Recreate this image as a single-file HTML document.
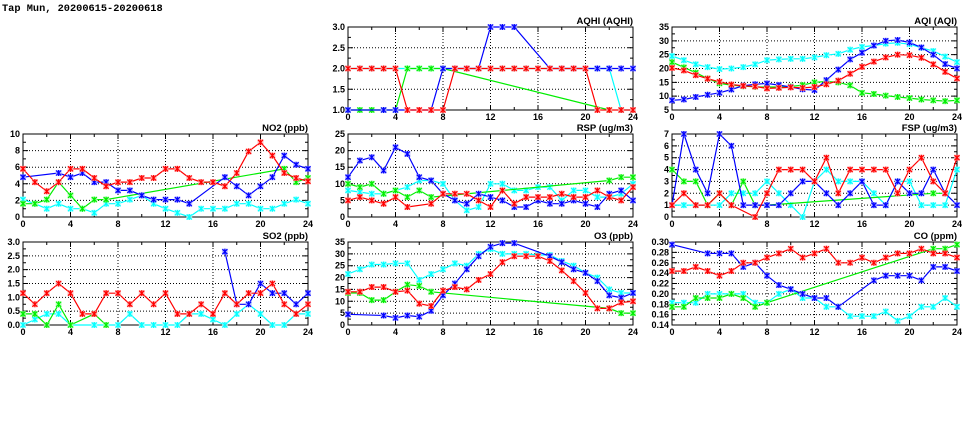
<!DOCTYPE html>
<html><head><meta charset="utf-8"><style>
body{margin:0;background:#fff;}
svg{display:block;font-family:"Liberation Sans",sans-serif;font-weight:bold;font-size:9px;}
.t{font-size:9.5px}
.xl text{text-anchor:middle}
.yl text{text-anchor:end}
</style></head><body>
<svg id="s" width="975" height="447" viewBox="0 0 975 447" xmlns="http://www.w3.org/2000/svg">
<rect width="975" height="447" fill="#fff"/>
<text x="2" y="11" style="font-size:10.3px;font-family:'Liberation Mono',monospace">Tap Mun, 20200615-20200618</text>
<g id="plots"></g>

<!-- AQHI -->
<g transform="translate(348,27)">
<text class="t" x="285" y="-3" text-anchor="end">AQHI (AQHI)</text>
<g class="yl"><text x="-3" y="86">1.0</text><text x="-3" y="65.25">1.5</text><text x="-3" y="44.5">2.0</text><text x="-3" y="23.75">2.5</text><text x="-3" y="3">3.0</text></g>
<g class="xl"><text x="0" y="93">0</text><text x="47.5" y="93">4</text><text x="95" y="93">8</text><text x="142.5" y="93">12</text><text x="190" y="93">16</text><text x="237.5" y="93">20</text><text x="285" y="93">24</text></g>
</g>
<!-- AQI -->
<g transform="translate(672,27)">
<text class="t" x="285" y="-3" text-anchor="end">AQI (AQI)</text>
<g class="yl"><text x="-3" y="86">5</text><text x="-3" y="72.2">10</text><text x="-3" y="58.3">15</text><text x="-3" y="44.5">20</text><text x="-3" y="30.7">25</text><text x="-3" y="16.8">30</text><text x="-3" y="3">35</text></g>
<g class="xl"><text x="0" y="93">0</text><text x="47.5" y="93">4</text><text x="95" y="93">8</text><text x="142.5" y="93">12</text><text x="190" y="93">16</text><text x="237.5" y="93">20</text><text x="285" y="93">24</text></g>
</g>
<!-- NO2 -->
<g transform="translate(23,134)">
<text class="t" x="285" y="-3" text-anchor="end">NO2 (ppb)</text>
<g class="yl"><text x="-3" y="86">0</text><text x="-3" y="69.4">2</text><text x="-3" y="52.8">4</text><text x="-3" y="36.2">6</text><text x="-3" y="19.6">8</text><text x="-3" y="3">10</text></g>
<g class="xl"><text x="0" y="93">0</text><text x="47.5" y="93">4</text><text x="95" y="93">8</text><text x="142.5" y="93">12</text><text x="190" y="93">16</text><text x="237.5" y="93">20</text><text x="285" y="93">24</text></g>
</g>
<!-- RSP -->
<g transform="translate(348,134)">
<text class="t" x="285" y="-3" text-anchor="end">RSP (ug/m3)</text>
<g class="yl"><text x="-3" y="86">0</text><text x="-3" y="69.4">5</text><text x="-3" y="52.8">10</text><text x="-3" y="36.2">15</text><text x="-3" y="19.6">20</text><text x="-3" y="3">25</text></g>
<g class="xl"><text x="0" y="93">0</text><text x="47.5" y="93">4</text><text x="95" y="93">8</text><text x="142.5" y="93">12</text><text x="190" y="93">16</text><text x="237.5" y="93">20</text><text x="285" y="93">24</text></g>
</g>
<!-- FSP -->
<g transform="translate(672,134)">
<text class="t" x="285" y="-3" text-anchor="end">FSP (ug/m3)</text>
<g class="yl"><text x="-3" y="86">0</text><text x="-3" y="74.1">1</text><text x="-3" y="62.3">2</text><text x="-3" y="50.4">3</text><text x="-3" y="38.6">4</text><text x="-3" y="26.7">5</text><text x="-3" y="14.9">6</text><text x="-3" y="3">7</text></g>
<g class="xl"><text x="0" y="93">0</text><text x="47.5" y="93">4</text><text x="95" y="93">8</text><text x="142.5" y="93">12</text><text x="190" y="93">16</text><text x="237.5" y="93">20</text><text x="285" y="93">24</text></g>
</g>
<!-- SO2 -->
<g transform="translate(23,242)">
<text class="t" x="285" y="-3" text-anchor="end">SO2 (ppb)</text>
<g class="yl"><text x="-3" y="86">0.0</text><text x="-3" y="72.2">0.5</text><text x="-3" y="58.3">1.0</text><text x="-3" y="44.5">1.5</text><text x="-3" y="30.7">2.0</text><text x="-3" y="16.8">2.5</text><text x="-3" y="3">3.0</text></g>
<g class="xl"><text x="0" y="93">0</text><text x="47.5" y="93">4</text><text x="95" y="93">8</text><text x="142.5" y="93">12</text><text x="190" y="93">16</text><text x="237.5" y="93">20</text><text x="285" y="93">24</text></g>
</g>
<!-- O3 -->
<g transform="translate(348,242)">
<text class="t" x="285" y="-3" text-anchor="end">O3 (ppb)</text>
<g class="yl"><text x="-3" y="86">0</text><text x="-3" y="74.1">5</text><text x="-3" y="62.3">10</text><text x="-3" y="50.4">15</text><text x="-3" y="38.6">20</text><text x="-3" y="26.7">25</text><text x="-3" y="14.9">30</text><text x="-3" y="3">35</text></g>
<g class="xl"><text x="0" y="93">0</text><text x="47.5" y="93">4</text><text x="95" y="93">8</text><text x="142.5" y="93">12</text><text x="190" y="93">16</text><text x="237.5" y="93">20</text><text x="285" y="93">24</text></g>
</g>
<!-- CO -->
<g transform="translate(672,242)">
<text class="t" x="285" y="-3" text-anchor="end">CO (ppm)</text>
<g class="yl"><text x="-3" y="86">0.14</text><text x="-3" y="75.6">0.16</text><text x="-3" y="65.3">0.18</text><text x="-3" y="54.9">0.20</text><text x="-3" y="44.5">0.22</text><text x="-3" y="34.1">0.24</text><text x="-3" y="23.8">0.26</text><text x="-3" y="13.4">0.28</text><text x="-3" y="3">0.30</text></g>
<g class="xl"><text x="0" y="93">0</text><text x="47.5" y="93">4</text><text x="95" y="93">8</text><text x="142.5" y="93">12</text><text x="190" y="93">16</text><text x="237.5" y="93">20</text><text x="285" y="93">24</text></g>
</g>
</svg>
<script>
var N=null;
var P=[
{x:348,y:27,min:1,max:3,st:0.5,s:{
c:[2,2,2,2,2,2,2,2,2,2,2,2,2,2,2,2,2,2,2,2,2,2,2,1,1],
g:[1,1,1,1,1,2,2,2,2,N,N,N,N,N,N,N,N,N,N,N,N,N,1,N,N],
b:[1,N,N,1,1,N,N,1,2,2,2,2,3,3,3,N,N,2,2,2,2,2,2,2,2],
r:[2,2,2,2,2,1,1,1,1,2,2,2,2,2,2,2,2,2,2,2,2,1,1,1,1]}},
{x:672,y:27,min:5,max:35,st:5,s:{
c:[24.5,23,21.5,20.5,19.8,20,20.5,21.5,23,23.3,23.5,23.5,24,24.8,25.3,26.8,27.8,28.3,29,29.3,28.8,27.5,26.3,24.3,22.3],
g:[22.3,20.4,18.5,16.4,14.6,14,13.6,13.4,13.3,13.3,13.5,14,15,15.3,15,13.9,11.2,10.8,10.2,9.7,9.3,8.8,8.5,8.2,8.5],
b:[8.5,8.8,9.7,10.5,11.2,12.4,13.8,14.3,14.6,14,13.3,12.5,12.2,15.8,19.6,23.3,25.7,28.3,30,30.3,29.4,27.6,25,21.6,20],
r:[20.2,19.3,17.6,16.3,15.2,14.2,13.7,13.5,12.8,13,13.2,13,13.3,14.3,15.6,18.1,20.6,22.5,24,25,24.8,23.9,21.5,18.8,16.4]}},
{x:23,y:134,min:0,max:10,st:2,s:{
c:[2.1,1.6,1.0,1.6,1.0,1.0,0.5,1.6,1.6,2.1,2.6,1.6,1.0,0.5,0,1.0,1.0,1.0,1.6,1.6,1.0,1.0,1.6,2.1,1.6],
g:[1.6,1.6,2.1,4.2,2.6,1.0,2.1,2.1,N,N,N,N,N,N,N,N,N,N,N,N,N,N,5.8,4.2,4.7],
b:[4.8,N,N,5.3,4.8,5.3,4.2,4.2,3.2,3.2,2.6,2.1,2.1,2.1,1.6,N,N,4.8,3.7,2.6,3.7,4.8,7.4,6.3,5.8],
r:[5.8,4.2,3.1,4.2,5.8,5.8,4.7,3.7,4.2,4.2,4.7,4.7,5.8,5.8,4.7,4.2,4.2,3.7,5.3,7.9,9.0,7.4,5.3,4.7,4.3]}},
{x:348,y:134,min:0,max:25,st:5,s:{
c:[8,7.5,7,7,8,9,11,11,10,5,2,3,10,10,8,8,9,9,5,8,8,6,6,7,10],
g:[10,9,10,7,8,6,8,6,N,N,N,N,N,N,N,N,N,N,N,N,N,N,11,12,12],
b:[12,17,18,14,21,19,12,11,7,5,4,7,6,5,3,3,5,4,4,5,4,3,7,8,5],
r:[5,6,5,4,6,3,N,4,7,7,7,5,3,8,4,6,6,6,7,6,6,8,6,5,9]}},
{x:672,y:134,min:0,max:7,st:1,s:{
c:[1,1,1,1,1,2,2,2,3,2,1,0,3,4,3,3,3,2,1,3,3,1,1,1,4],
g:[4,3,3,1,2,1,3,1,1,N,N,N,N,N,N,N,N,N,N,N,N,N,2,2,N],
b:[1,7,4,2,7,6,1,1,1,1,2,3,3,2,1,2,3,1,1,3,2,2,4,2,1],
r:[1,2,1,1,2,1,N,0,2,4,4,4,3,5,2,4,4,4,4,2,4,5,3,2,5]}},
{x:23,y:242,min:0,max:3,st:0.5,s:{
c:[0,0.2,0.4,0.4,0,N,0,N,0,0.4,0,0,0,0,0.4,0.4,0.2,0,0.4,0.75,0.4,0,0,0.4,0.4],
g:[0.4,0.4,0,0.75,0,N,0.4,0,N,N,N,N,N,N,N,N,N,N,N,N,N,N,N,N,N],
b:[N,N,N,N,N,N,N,N,N,N,N,N,N,N,N,N,N,2.65,0.75,0.75,1.5,1.15,1.15,0.75,1.15],
r:[1.15,0.75,1.15,1.5,1.15,0.4,0.4,1.15,1.15,0.75,1.15,0.75,1.15,0.4,0.4,0.75,0.4,1.15,0.75,1.15,1.15,1.5,0.75,0.4,0.75]}},
{x:348,y:242,min:0,max:35,st:5,s:{
c:[21.5,23.5,25.5,25.5,26,26,19,21.5,23.5,26,25,30,32,30,30,30,29.5,29.5,27,25,22,20,15,13.5,13.5],
g:[13.5,13.5,10.5,10.5,14,17,16.5,14,N,N,N,N,N,N,N,N,N,N,N,N,N,N,7,5,5],
b:[4.5,N,N,4,3,4,3.5,6,12.5,17.5,23.5,29,33,34.5,34.5,N,N,29,26.5,23.5,22,18.5,12.5,11.5,13.5],
r:[14,14,16,16,14,14.5,9,8,14.5,16,15,19,21.5,26.5,29,29,29,27,23,18.5,13.5,7,7,9.5,10]}},
{x:672,y:242,min:0.14,max:0.30,st:0.02,s:{
c:[.183,.183,.183,.2,.2,.2,.2,.183,.183,.2,.209,.192,.192,.175,.175,.157,.157,.157,.166,.148,.157,.175,.175,.192,.175],
g:[.175,.175,.192,.192,.192,.2,.192,.175,.183,N,N,N,N,N,N,N,N,N,N,N,N,N,.287,.287,.295],
b:[.295,N,N,.278,.278,.278,.252,.26,.235,.217,.209,.2,.192,.192,.175,N,N,.226,.235,.235,.235,.226,.252,.252,.244],
r:[.244,.244,.252,.244,.235,.244,.26,.26,.27,.278,.287,.27,.278,.287,.26,.26,.27,.26,.27,.278,.278,.287,.278,.278,.27]}}
];
var col={c:"#00ffff",g:"#00ee00",b:"#0000ff",r:"#ff0000"};
var halo={c:"#b0ffff",g:"#b0ffb0",b:"#b0b0ff",r:"#ffb0b0"};
var W=285,H=83,out="";
P.forEach(function(p){
 var X=function(i){return p.x+i*W/24},Y=function(v){return p.y+H-(v-p.min)/(p.max-p.min)*H};
 out+='<rect x="'+p.x+'" y="'+p.y+'" width="'+W+'" height="'+H+'" fill="none" stroke="#000" stroke-width="1"/>';
 for(var i=4;i<24;i+=4){out+='<line x1="'+X(i)+'" y1="'+p.y+'" x2="'+X(i)+'" y2="'+(p.y+H)+'" stroke="#000" stroke-width="1" stroke-dasharray="1,2"/>';}
 for(var i=2;i<24;i+=2){var L=(i%4==0)?5:3;out+='<path d="M'+X(i)+' '+p.y+'v'+L+'M'+X(i)+' '+(p.y+H)+'v-'+L+'" stroke="#000" stroke-width="1"/>';}
 var n=Math.round((p.max-p.min)/p.st);
 for(var k=1;k<n;k++){var yy=Y(p.min+k*p.st);out+='<line x1="'+p.x+'" y1="'+yy+'" x2="'+(p.x+W)+'" y2="'+yy+'" stroke="#000" stroke-width="1" stroke-dasharray="1,2"/>';}
 for(var k=1;k<2*n;k++){var yy=Y(p.min+k*p.st/2),L=(k%2==0)?5:3;out+='<path d="M'+p.x+' '+yy+'h'+L+'M'+(p.x+W)+' '+yy+'h-'+L+'" stroke="#000" stroke-width="1"/>';}
 ["c","g","b","r"].forEach(function(k){
  var d=p.s[k],pts=[];
  d.forEach(function(v,i){if(v!==null)pts.push([X(i),Y(v)]);});
  out+='<polyline fill="none" stroke="'+col[k]+'" stroke-width="1.2" points="'+pts.map(function(a){return a[0].toFixed(1)+','+a[1].toFixed(1)}).join(' ')+'"/>';
  pts.forEach(function(a){var x=a[0],y=a[1];
   out+='<rect x="'+(x-3)+'" y="'+(y-3)+'" width="6" height="6" fill="'+halo[k]+'" opacity="0.8"/>';
   out+='<path d="M'+(x-2.5)+' '+(y-2.5)+'L'+(x+2.5)+' '+(y+2.5)+'M'+(x-2.5)+' '+(y+2.5)+'L'+(x+2.5)+' '+(y-2.5)+'M'+x+' '+(y-3)+'V'+(y+3)+'" stroke="'+col[k]+'" stroke-width="1.2"/>';
  });
 });
});
document.getElementById("plots").innerHTML=out;
</script>
</body></html>
